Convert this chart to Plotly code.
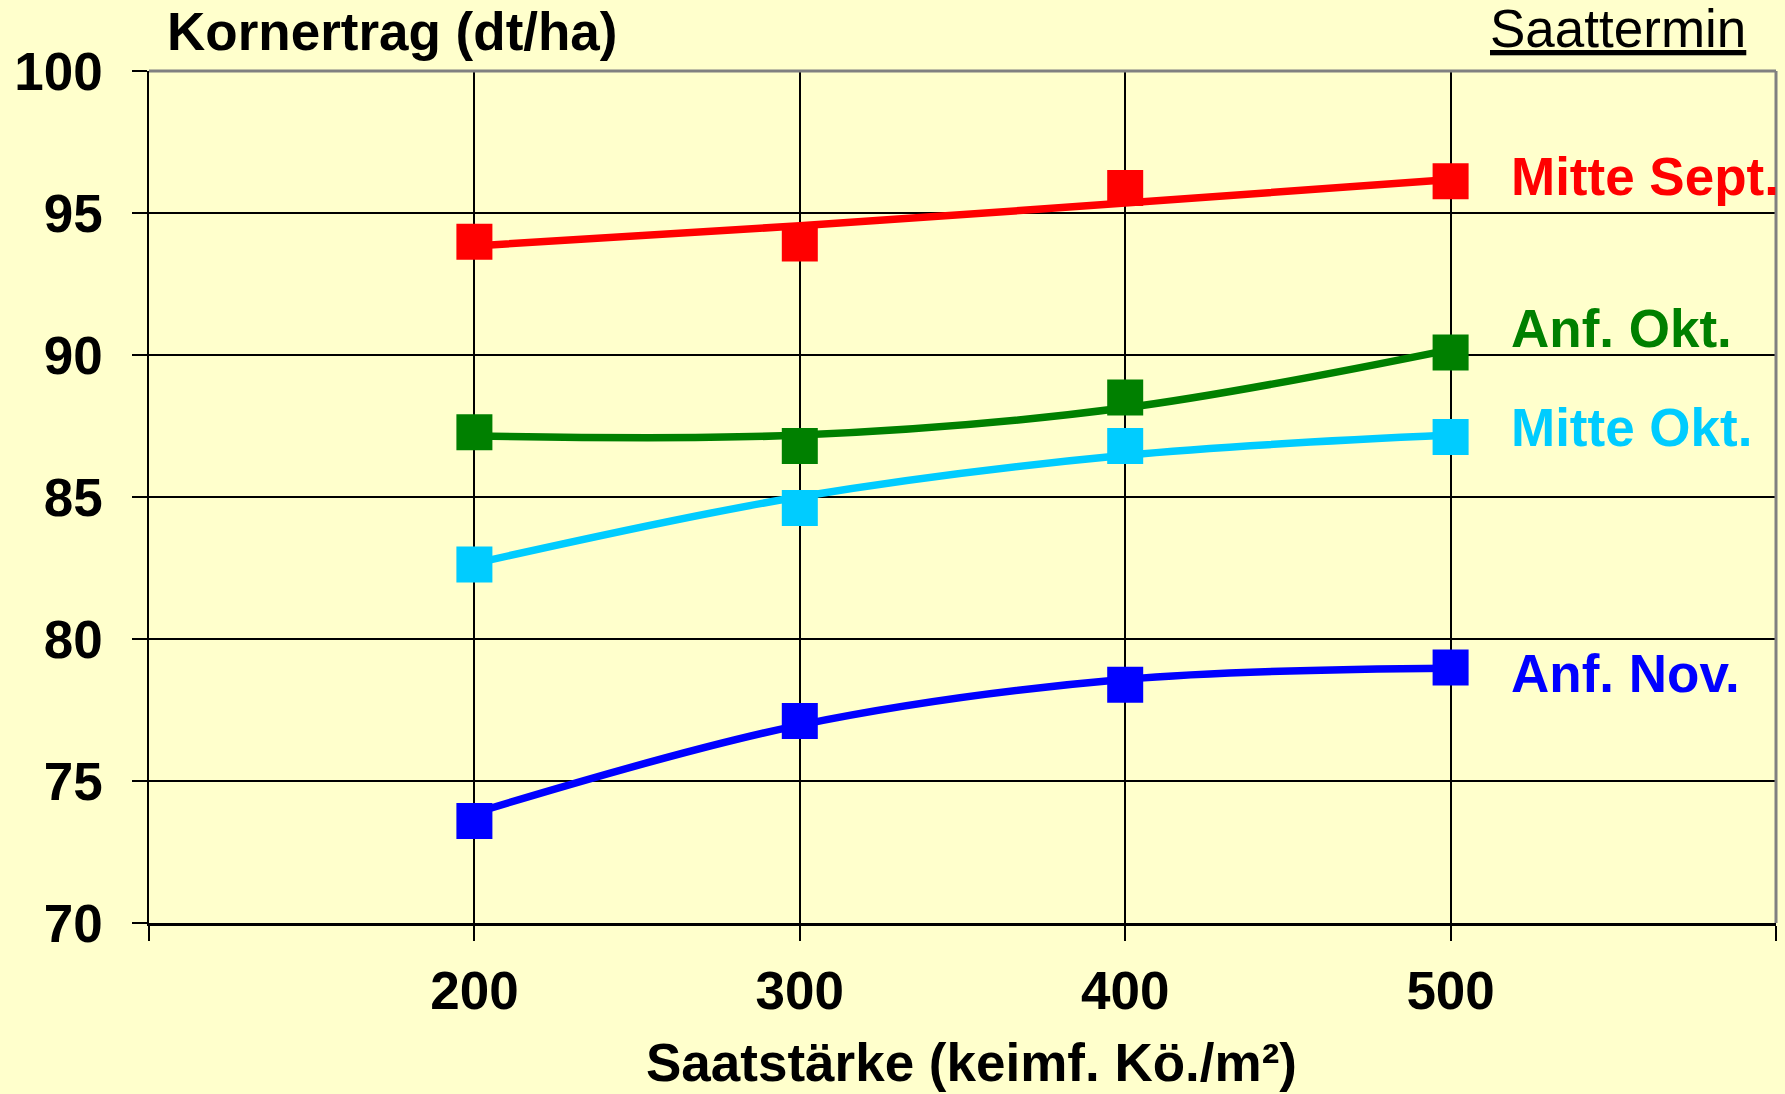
import plotly.graph_objects as go

# ---- data ----
saatstaerke = [200, 300, 400, 500]
x_tick_vals = [100, 200, 300, 400, 500, 600]
x_tick_text = ["", "200", "300", "400", "500", ""]
y_tick_vals = [70, 75, 80, 85, 90, 95, 100]

series_names = ["Mitte Sept.", "Anf. Okt.", "Mitte Okt.", "Anf. Nov."]
mitte_sept = [93.99, 93.93, 95.88, 96.12]
anf_okt = [87.28, 86.80, 88.50, 90.09]
mitte_okt = [82.62, 84.61, 86.80, 87.11]
anf_nov = [73.59, 77.11, 78.39, 79.00]

# trend curves (at the same x positions)
mitte_sept_trend = [93.84, 94.55, 95.35, 96.18]
anf_okt_trend = [87.15, 87.18, 88.14, 90.19]
mitte_okt_trend = [82.66, 85.01, 86.47, 87.18]
anf_nov_trend = [73.87, 76.97, 78.58, 78.97]

# label anchor values (y of series labels on the right)
label_y = [96.29, 90.94, 87.46, 78.77]
label_x = 518

colors = ["#FF0000", "#008000", "#00CCFF", "#0000FF"]
markers = [mitte_sept, anf_okt, mitte_okt, anf_nov]
trends = [mitte_sept_trend, anf_okt_trend, mitte_okt_trend, anf_nov_trend]

FONT = "Liberation Sans, Arial, sans-serif"
W, H = 1785, 1094
L, R, T, B = 149, 9, 71, 171

fig = go.Figure()
for name, col, m, t in zip(series_names, colors, markers, trends):
    fig.add_trace(go.Scatter(x=saatstaerke, y=t, mode="lines",
                             line=dict(color=col, width=7.5, shape="spline", smoothing=1),
                             showlegend=False, hoverinfo="skip"))
    fig.add_trace(go.Scatter(x=saatstaerke, y=m, mode="markers", name=name,
                             marker=dict(symbol="square", size=36, color=col,
                                         line=dict(width=0)),
                             showlegend=False))

for name, col, ly in zip(series_names, colors, label_y):
    fig.add_annotation(x=label_x, y=ly, xref="x", yref="y", text=name,
                       showarrow=False, xanchor="left", yanchor="middle",
                       font=dict(family=FONT, size=53, color=col, weight="bold"))

pw = W - L - R
ph = H - T - B
def px_x(p):
    return (p - L) / pw
def px_y(p):
    return (H - B - p) / ph

fig.add_annotation(x=px_x(165), y=px_y(32), xref="paper", yref="paper",
                   text="Kornertrag (dt/ha)", showarrow=False,
                   xanchor="left", yanchor="middle",
                   font=dict(family=FONT, size=53, color="black", weight="bold"))
fig.add_annotation(x=px_x(1748), y=px_y(28), xref="paper", yref="paper",
                   text="<u>Saattermin</u>", showarrow=False,
                   xanchor="right", yanchor="middle",
                   font=dict(family=FONT, size=53, color="black"))
fig.add_annotation(x=px_x(971), y=px_y(1062), xref="paper", yref="paper",
                   text="Saatstärke (keimf. Kö./m²)", showarrow=False,
                   xanchor="center", yanchor="middle",
                   font=dict(family=FONT, size=53, color="black", weight="bold"))

# gray top / right border
fig.add_shape(type="line", xref="paper", yref="paper", x0=0, x1=1, y0=1, y1=1,
              line=dict(color="#808080", width=3), layer="above")
fig.add_shape(type="line", xref="paper", yref="paper", x0=1, x1=1, y0=0, y1=1,
              line=dict(color="#808080", width=3), layer="above")

fig.update_xaxes(range=[100, 600], tickmode="array", tickvals=x_tick_vals,
                 ticktext=x_tick_text, ticks="outside", ticklen=15, tickwidth=1.5,
                 tickcolor="black", showgrid=True, gridcolor="black", gridwidth=1.5,
                 showline=True, linecolor="black", linewidth=3, zeroline=False,
                 ticklabelstandoff=4, automargin=False,
                 tickfont=dict(family=FONT, size=53, color="black", weight="bold"))
fig.update_yaxes(range=[70, 100], tickmode="array", tickvals=y_tick_vals,
                 ticks="outside", ticklen=15, tickwidth=1.5, tickcolor="black",
                 showgrid=True, gridcolor="black", gridwidth=2,
                 showline=True, linecolor="black", linewidth=1.5, zeroline=False,
                 ticklabelstandoff=19, automargin=False,
                 tickfont=dict(family=FONT, size=53, color="black", weight="bold"))

fig.update_layout(width=W, height=H, margin=dict(l=L, r=R, t=T, b=B, pad=0),
                  paper_bgcolor="#FFFFCC", plot_bgcolor="#FFFFCC",
                  showlegend=False, hovermode=False)

fig.write_html("out.html", config={"displayModeBar": False},
               post_script="document.body.style.margin='0';document.body.style.overflow='hidden';")
